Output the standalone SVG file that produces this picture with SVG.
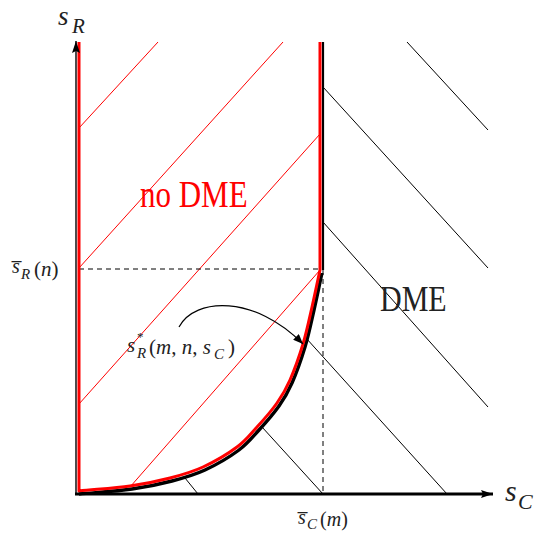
<svg xmlns="http://www.w3.org/2000/svg" width="540" height="538" viewBox="0 0 540 538">
<style>
.t{font-family:"Liberation Serif","Times New Roman",serif;fill:#222}
.i{font-style:italic}
.red{stroke:#ff0000;fill:none}
.blk{stroke:#000;fill:none}
.dash{stroke:#000;stroke-width:1;stroke-dasharray:5,4;fill:none}
</style>
<defs>
<marker id="ah" viewBox="0 0 10 8" refX="10" refY="4" markerWidth="10" markerHeight="8" markerUnits="userSpaceOnUse" orient="auto">
<path d="M0,0 L10,4 L0,8 Z" fill="#000"/>
</marker>
<marker id="ax" viewBox="0 0 12 8" refX="12" refY="4" markerWidth="12" markerHeight="8" markerUnits="userSpaceOnUse" orient="auto">
<path d="M0,0 L12,4 L0,8 L2,4 Z" fill="#000"/>
</marker>
</defs>
<rect width="540" height="538" fill="#fff"/>
<g id="connectors">
<g class="red" stroke-width="1">
<line x1="79" y1="128" x2="158" y2="42"/>
<line x1="79" y1="268" x2="283" y2="42"/>
<line x1="79" y1="404" x2="320" y2="134"/>
<line x1="130" y1="487" x2="320" y2="270"/>
</g>
<g class="blk" stroke-width="1">
<line x1="407" y1="42" x2="488" y2="130"/>
<line x1="323" y1="87" x2="488" y2="268"/>
<line x1="323" y1="222" x2="488" y2="407"/>
<line x1="306" y1="338" x2="447" y2="494"/>
<line x1="262" y1="427" x2="323" y2="494"/>
<line x1="185" y1="478" x2="198" y2="494"/>
</g>
<line class="dash" x1="79" y1="269" x2="320" y2="269"/>
<line class="dash" x1="323" y1="270" x2="323" y2="494"/>
<line class="blk" stroke-width="2.2" x1="323" y1="42" x2="323" y2="270"/>
<path class="blk" stroke-width="3.4" transform="translate(2,3)" d="M77,491 C96,489.3 114.8,488.2 130,486 C145.2,483.8 157.8,481.2 170,478 C182.2,474.8 191.8,472.2 203,467 C214.2,461.8 228,453.7 237,447 C246,440.3 250.3,434.3 257,427 C263.7,419.7 271.5,410.8 277,403 C282.5,395.2 285.7,389.8 290,380 C294.3,370.2 299.3,356.2 303,344 C306.7,331.8 309.2,319.3 312,307 C314.8,294.7 317.3,282.3 320,270"/>
<path class="red" stroke-width="3" stroke-linejoin="round" d="M79,42 L79,491 C96,489.3 114.8,488.2 130,486 C145.2,483.8 157.8,481.2 170,478 C182.2,474.8 191.8,472.2 203,467 C214.2,461.8 228,453.7 237,447 C246,440.3 250.3,434.3 257,427 C263.7,419.7 271.5,410.8 277,403 C282.5,395.2 285.7,389.8 290,380 C294.3,370.2 299.3,356.2 303,344 C306.7,331.8 309.2,319.3 312,307 C314.8,294.7 317.3,282.3 320,270 L320,42"/>
<line class="blk" stroke-width="1.4" x1="76" y1="495" x2="76" y2="41" marker-end="url(#ax)"/>
<line class="blk" stroke-width="3" x1="75" y1="494" x2="493" y2="494" marker-end="url(#ax)"/>
<path class="blk" stroke-width="1.2" d="M179,327 C195,297 255,295 303,344" marker-end="url(#ah)"/>
</g>
<g id="label-sR">
<text class="t i" font-size="27"><tspan x="58" y="25">s</tspan><tspan x="72" y="33" font-size="21">R</tspan></text>
</g>
<g id="label-sC">
<text class="t i" font-size="30"><tspan x="505" y="501">s</tspan><tspan x="518" y="509" font-size="22">C</tspan></text>
</g>
<g id="region-noDME">
<text class="t" style="fill:#ff0000" font-size="31" transform="translate(140,207) scale(1,1.22)">no DME</text>
</g>
<g id="region-DME">
<text class="t" font-size="30" transform="translate(380,311) scale(1,1.22)">DME</text>
</g>
<g id="label-sRbar">
<text class="t" font-size="21"><tspan class="i" x="12" y="273" font-size="20">s&#x0305;</tspan><tspan class="i" x="21" y="279" font-size="15">R</tspan><tspan x="34" y="276">(</tspan><tspan class="i">n</tspan><tspan>)</tspan></text>
</g>
<g id="label-sRstar">
<text class="t" font-size="21"><tspan class="i" x="127" y="352">s</tspan><tspan x="137" y="341" font-size="13">*</tspan><tspan class="i" x="137" y="358" font-size="15">R</tspan><tspan x="149" y="354">(</tspan><tspan class="i">m</tspan><tspan>, </tspan><tspan class="i">n</tspan><tspan>, </tspan><tspan class="i">s</tspan><tspan class="i" x="214" y="359" font-size="15">C</tspan><tspan x="228" y="354">)</tspan></text>
</g>
<g id="label-sCbar">
<text class="t" font-size="20"><tspan class="i" x="298" y="524">s&#x0305;</tspan><tspan class="i" x="307" y="529" font-size="15">C</tspan><tspan x="320" y="526">(</tspan><tspan class="i">m</tspan><tspan>)</tspan></text>
</g>
</svg>
